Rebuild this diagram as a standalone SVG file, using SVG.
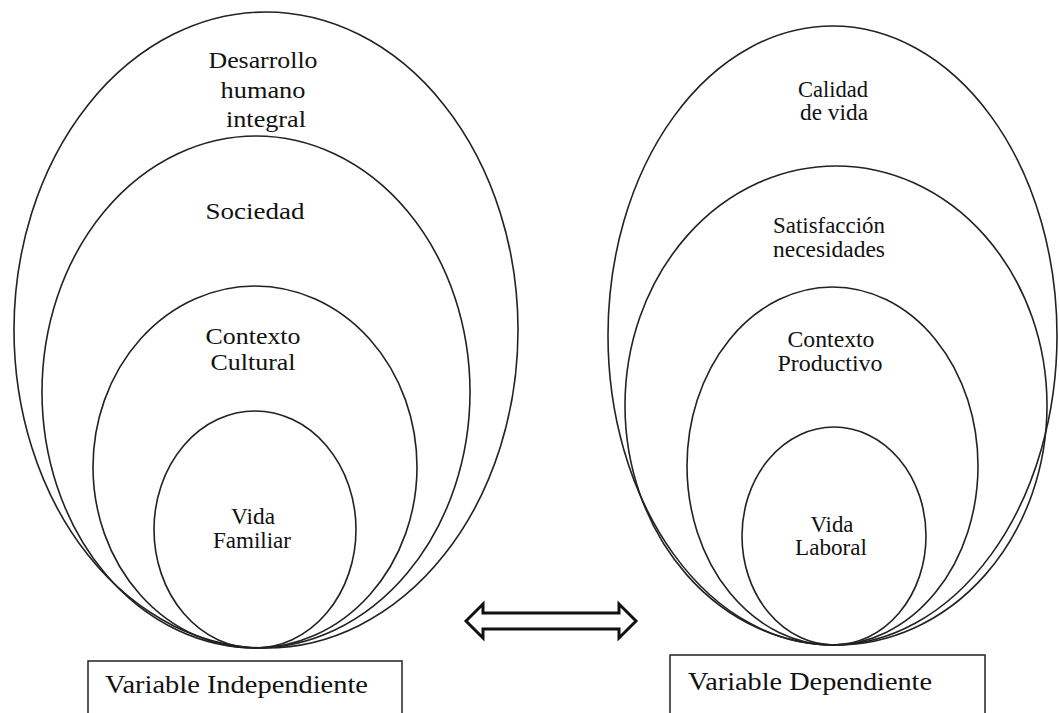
<svg xmlns="http://www.w3.org/2000/svg" width="1059" height="713" viewBox="0 0 1059 713">
<style>
.e{fill:none;stroke:#222;stroke-width:1.6}
.t{font-family:"Liberation Serif","Times New Roman",serif;font-size:23px;fill:#111;text-anchor:middle}
.b{fill:#fff;stroke:#222;stroke-width:1.5}
.bt{font-family:"Liberation Serif","Times New Roman",serif;font-size:25px;fill:#111}
</style>
<rect width="1059" height="713" fill="#fff"/>
<g id="left-outer"><ellipse class="e" cx="266" cy="330" rx="252" ry="318"/>
<text class="t" x="263" y="68" textLength="109" lengthAdjust="spacingAndGlyphs">Desarrollo</text>
<text class="t" x="263" y="98" textLength="85" lengthAdjust="spacingAndGlyphs">humano</text>
<text class="t" x="266" y="127" textLength="80" lengthAdjust="spacingAndGlyphs">integral</text></g>
<g id="left-sociedad"><ellipse class="e" cx="256" cy="392" rx="214" ry="256"/>
<text class="t" x="255" y="219" textLength="99" lengthAdjust="spacingAndGlyphs">Sociedad</text></g>
<g id="left-contexto"><ellipse class="e" cx="255" cy="467" rx="162" ry="181"/>
<text class="t" x="253" y="344" textLength="95" lengthAdjust="spacingAndGlyphs">Contexto</text>
<text class="t" x="253" y="370" textLength="85" lengthAdjust="spacingAndGlyphs">Cultural</text></g>
<g id="left-vida"><ellipse class="e" cx="255" cy="529.5" rx="101" ry="118.5"/>
<text class="t" x="253" y="524" textLength="44" lengthAdjust="spacingAndGlyphs">Vida</text>
<text class="t" x="252" y="548" textLength="78" lengthAdjust="spacingAndGlyphs">Familiar</text></g>
<g id="left-label"><rect class="b" x="88" y="661" width="314" height="60"/>
<text class="bt" x="105" y="693" textLength="263" lengthAdjust="spacingAndGlyphs">Variable Independiente</text></g>

<g id="right-outer"><ellipse class="e" cx="832.5" cy="335.5" rx="224.5" ry="309.5"/>
<text class="t" x="833" y="97" textLength="70" lengthAdjust="spacingAndGlyphs">Calidad</text>
<text class="t" x="834" y="120" textLength="68" lengthAdjust="spacingAndGlyphs">de vida</text></g>
<g id="right-satisfaccion"><ellipse class="e" cx="836" cy="405.5" rx="211" ry="239.5"/>
<text class="t" x="829" y="233" textLength="112" lengthAdjust="spacingAndGlyphs">Satisfacción</text>
<text class="t" x="829" y="257" textLength="112" lengthAdjust="spacingAndGlyphs">necesidades</text></g>
<g id="right-contexto"><ellipse class="e" cx="832.5" cy="466" rx="145.5" ry="179"/>
<text class="t" x="831" y="347" textLength="87" lengthAdjust="spacingAndGlyphs">Contexto</text>
<text class="t" x="830" y="371" textLength="105" lengthAdjust="spacingAndGlyphs">Productivo</text></g>
<g id="right-vida"><ellipse class="e" cx="834" cy="536" rx="92" ry="109"/>
<text class="t" x="832" y="532" textLength="43" lengthAdjust="spacingAndGlyphs">Vida</text>
<text class="t" x="831" y="555" textLength="72" lengthAdjust="spacingAndGlyphs">Laboral</text></g>
<g id="right-label"><rect class="b" x="670" y="655" width="315" height="66"/>
<text class="bt" x="688" y="690" textLength="244" lengthAdjust="spacingAndGlyphs">Variable Dependiente</text></g>

<g id="connectors"><path d="M466,621 L483,604 L483,613 L619,613 L619,604 L636,621 L619,638 L619,629 L483,629 L483,638 Z" fill="#fff" stroke="#111" stroke-width="3" stroke-linejoin="miter"/></g>
</svg>
